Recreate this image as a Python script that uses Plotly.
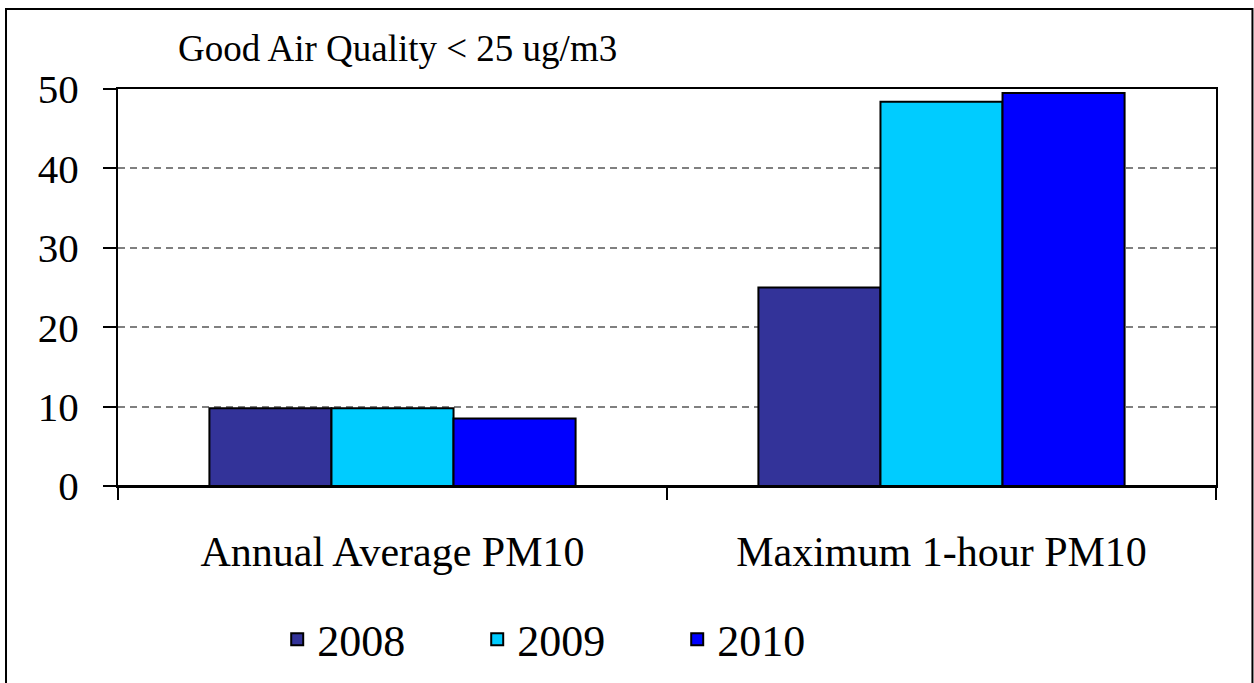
import plotly.graph_objects as go

categories = ["Annual Average PM10", "Maximum 1-hour PM10"]
years = ["2008", "2009", "2010"]
values_2008 = [9.8, 25.0]
values_2009 = [9.8, 48.4]
values_2010 = [8.5, 49.5]
colors = ["#333399", "#00CCFF", "#0000FF"]
title_text = "Good Air Quality < 25 ug/m3"

FONT = "Liberation Serif"

fig = go.Figure()
for name, vals, col in zip(years, [values_2008, values_2009, values_2010], colors):
    fig.add_trace(go.Bar(
        x=categories, y=vals, name=name,
        marker=dict(color=col, line=dict(color="black", width=2)),
    ))

fig.update_layout(
    width=1254, height=683,
    margin=dict(l=118, r=38, t=89, b=197, autoexpand=False),
    paper_bgcolor="white", plot_bgcolor="white",
    barmode="group", bargap=0.333, bargroupgap=0,
    font=dict(family=FONT, color="black", size=41),
    showlegend=True,
    legend=dict(
        orientation="h", x=0.145, y=-0.387, xanchor="left", yanchor="middle",
        entrywidth=155, font=dict(size=44, family=FONT),
        bgcolor="rgba(0,0,0,0)",
    ),
)

fig.update_xaxes(
    type="category", showline=True, linecolor="black", linewidth=2, mirror=True,
    ticks="outside", tickson="boundaries", ticklen=12, tickwidth=2, tickcolor="black",
    tickfont=dict(size=42, family=FONT), ticklabelstandoff=28,
    showgrid=False, automargin=False,
)
fig.update_yaxes(
    range=[0, 50], dtick=10, tick0=0,
    showline=True, linecolor="black", linewidth=2, mirror=True,
    ticks="outside", ticklen=13, tickwidth=2, tickcolor="black",
    tickfont=dict(size=41, family=FONT), ticklabelstandoff=16,
    showgrid=True, gridcolor="#808080", gridwidth=1.5, griddash="7px,5px",
    zeroline=True, zerolinecolor="black", zerolinewidth=2, automargin=False,
)

fig.add_annotation(
    text=title_text, xref="paper", yref="paper", x=0.0528, y=1.103,
    xanchor="left", yanchor="middle", showarrow=False,
    font=dict(size=37, family=FONT, color="black"),
)

# outer chart frame
fig.add_shape(
    type="rect", xref="paper", yref="paper",
    x0=-0.102, x1=1.0332, y0=-0.55, y1=1.2018,
    line=dict(color="black", width=2), fillcolor="rgba(0,0,0,0)", layer="above",
)

fig.write_html("out.html", config={"displayModeBar": False},
               post_script="document.body.style.margin='0';document.body.style.overflow='hidden';")
